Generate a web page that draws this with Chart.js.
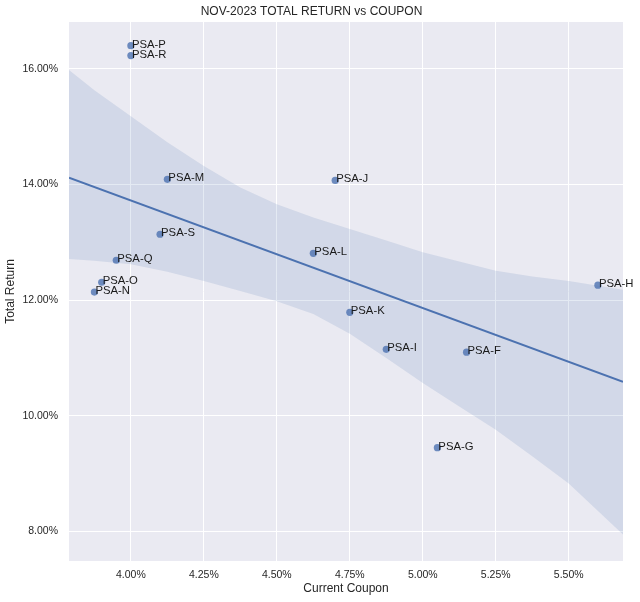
<!DOCTYPE html>
<html>
<head>
<meta charset="utf-8">
<script src="https://cdn.jsdelivr.net/npm/chart.js@4"></script>
<style>
  body { margin: 0; background: #fff; }
  #wrap { width: 640px; height: 602px; }
</style>
</head>
<body>
<div id="wrap"><canvas id="retChart" width="640" height="602"></canvas></div>
<script>
// preferreds: coupon (%) vs total return (%)
const names   = ["PSA-F", "PSA-G", "PSA-H", "PSA-I", "PSA-J", "PSA-K", "PSA-L", "PSA-M", "PSA-N", "PSA-O", "PSA-P", "PSA-Q", "PSA-R", "PSA-S"];
const coupon  = [5.15, 5.05, 5.60, 4.875, 4.70, 4.75, 4.625, 4.125, 3.875, 3.90, 4.00, 3.95, 4.00, 4.10];
const returns = [11.10, 9.45, 12.26, 11.15, 14.07, 11.79, 12.81, 14.09, 12.14, 12.31, 16.40, 12.69, 16.23, 13.14];

// regression line ends and confidence band
const fitX = [3.788, 5.686];
const fitY = [14.12, 10.59];
const bandX     = [3.788, 3.875, 4.0, 4.125, 4.25, 4.375, 4.5, 4.625, 4.75, 4.875, 5.0, 5.125, 5.25, 5.375, 5.5, 5.686];
const bandUpper = [15.98, 15.63, 15.18, 14.73, 14.32, 13.95, 13.66, 13.43, 13.23, 13.03, 12.83, 12.67, 12.51, 12.41, 12.33, 12.18];
const bandLower = [12.71, 12.68, 12.62, 12.49, 12.33, 12.16, 11.98, 11.76, 11.42, 11.00, 10.57, 10.16, 9.76, 9.30, 8.83, 7.95];

const xTicks = [4.00, 4.25, 4.50, 4.75, 5.00, 5.25, 5.50];
const yTicks = [8, 10, 12, 14, 16];

const blue = "#4C72B0";
const font = "'Liberation Sans', Arial, sans-serif";
const pts = (xs, ys) => xs.map((x, i) => ({ x: x, y: ys[i] }));

const plotBg = {
  id: "plotBg",
  beforeDraw(chart) {
    const { ctx, chartArea: a } = chart;
    ctx.save();
    ctx.fillStyle = "#EAEAF2";
    ctx.fillRect(a.left, a.top, a.right - a.left, a.bottom - a.top);
    ctx.restore();
  }
};

const pointNames = {
  id: "pointNames",
  afterDatasetsDraw(chart) {
    const ctx = chart.ctx;
    const meta = chart.getDatasetMeta(0);
    ctx.save();
    ctx.font = "11.3px " + font;
    ctx.fillStyle = "#1a1a1a";
    ctx.textAlign = "left";
    ctx.textBaseline = "alphabetic";
    meta.data.forEach((p, i) => {
      ctx.fillText(names[i], p.x + 1, p.y + 2);
    });
    ctx.restore();
  }
};

const ctx = document.getElementById("retChart").getContext("2d");

new Chart(ctx, {
  type: "scatter",
  data: {
    datasets: [
      {
        label: "bonds",
        data: pts(coupon, returns),
        backgroundColor: "rgba(76,114,176,0.8)",
        borderWidth: 0,
        pointRadius: 3.6
      },
      {
        label: "fit",
        data: pts(fitX, fitY),
        showLine: true,
        borderColor: blue,
        borderWidth: 2,
        pointRadius: 0
      },
      {
        label: "lower",
        data: pts(bandX, bandLower),
        showLine: true,
        borderWidth: 0,
        pointRadius: 0,
        fill: false
      },
      {
        label: "upper",
        data: pts(bandX, bandUpper),
        showLine: true,
        borderWidth: 0,
        pointRadius: 0,
        backgroundColor: "rgba(76,114,176,0.15)",
        fill: "-1"
      }
    ]
  },
  options: {
    responsive: false,
    animation: false,
    layout: { padding: { left: 0, right: 17, top: 0, bottom: 0 } },
    plugins: {
      legend: { display: false },
      tooltip: { enabled: false },
      title: {
        display: true,
        text: "NOV-2023 TOTAL RETURN vs COUPON",
        color: "#262626",
        font: { family: font, size: 12, weight: "normal" },
        padding: { top: 4, bottom: 3.6 }
      }
    },
    scales: {
      x: {
        type: "linear",
        min: 3.788,
        max: 5.686,
        afterBuildTicks: s => { s.ticks = xTicks.map(v => ({ value: v })); },
        afterFit: s => { s.height = 41; },
        border: { display: false },
        grid: { color: "#ffffff", lineWidth: 1, drawTicks: false },
        ticks: {
          padding: 8,
          color: "#262626",
          font: { family: font, size: 10.5 },
          callback: v => v.toFixed(2) + "%"
        },
        title: {
          display: true,
          text: "Current Coupon",
          color: "#262626",
          font: { family: font, size: 12 },
          padding: { top: 0, bottom: 6 }
        }
      },
      y: {
        type: "linear",
        min: 7.49,
        max: 16.81,
        afterBuildTicks: s => { s.ticks = yTicks.map(v => ({ value: v })); },
        afterFit: s => { s.width = 69; },
        border: { display: false },
        grid: { color: "#ffffff", lineWidth: 1, drawTicks: false },
        ticks: {
          padding: 11,
          color: "#262626",
          font: { family: font, size: 10.5 },
          callback: v => v.toFixed(2) + "%"
        },
        title: {
          display: true,
          text: "Total Return",
          color: "#262626",
          font: { family: font, size: 12 },
          padding: { top: 3, bottom: 0 }
        }
      }
    }
  },
  plugins: [plotBg, pointNames]
});
</script>
</body>
</html>
